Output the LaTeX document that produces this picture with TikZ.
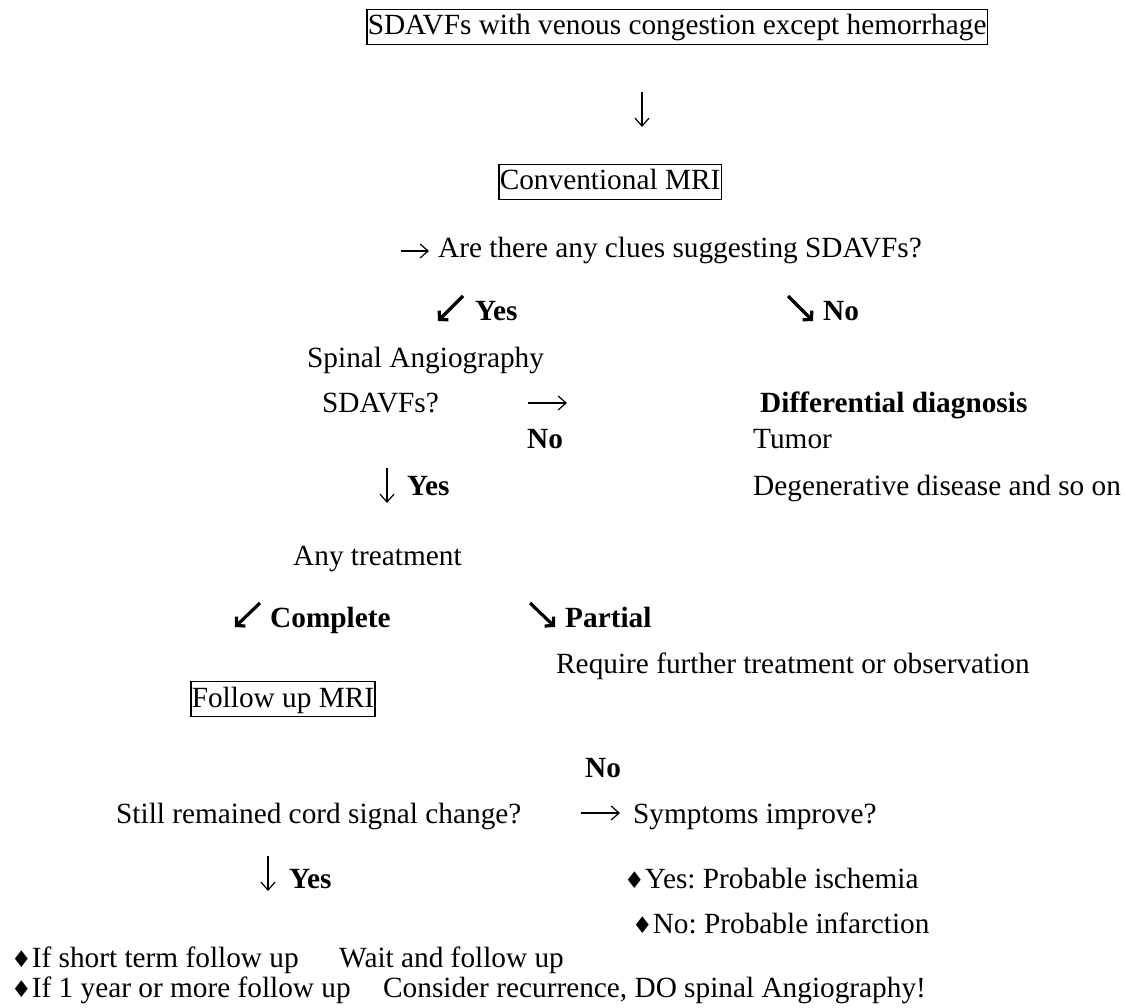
\documentclass[tikz,border=0pt]{standalone}
\usepackage{fontspec}
\setmainfont{Liberation Serif}
\newfontfamily\dmdfont{DejaVu Sans}
\usetikzlibrary{arrows.meta}
\newcommand{\dmd}{{\dmdfont\fontsize{23}{23}\selectfont ♦}}
\frenchspacing

\begin{document}
\fontsize{29.3}{35}\selectfont
\begin{tikzpicture}[x=1pt,y=-1pt,
    every node/.style={anchor=base west, inner sep=0pt},
    box/.style={draw, line width=1.6pt, inner xsep=1pt, text height=25.5pt, text depth=9.5pt},
    yn/.style={font=\bfseries},
    thinarr/.style={line width=1.2pt, -{Straight Barb[length=8pt,width=14pt]}},
    boldarr/.style={line width=3.2pt, -{Straight Barb[length=6pt,width=13pt]}}]
\useasboundingbox (0,0) rectangle (1125,1008);

% boxes and questions
\node[box] (start) at (366,35) {SDAVFs with venous congestion except hemorrhage};
\node[box] (mri) at (498,190) {Conventional MRI\hspace{12pt}};
\node (clues) at (438,258) {Are there any clues suggesting SDAVFs?};
\node[yn] (yes1) at (475,321) {Yes};
\node[yn] (no1) at (823,321) {No};
\node (angio) at (307,367) {Spinal Angiography};
\node (sdavf) at (322,413) {SDAVFs?};
\node[yn] (diff) at (760,412) {Differential diagnosis};
\node[yn] (no2) at (527,448) {No};
\node (tumor) at (753,448) {Tumor};
\node[yn] (yes2) at (407,495) {Yes};
\node (degen) at (753,495) {Degenerative disease and so on};
\node (treat) at (293,565) {Any treatment};
\node[yn] (compl) at (270,627) {Complete};
\node[yn] (part) at (565,627) {Partial};
\node (further) at (556,673) {Require further treatment or observation};
\node[box] (follow) at (190,707) {Follow up MRI};
\node[yn] (no3) at (585,777) {No};
\node (cord) at (116,823) {Still remained cord signal change?};
\node (sympt) at (633,823) {Symptoms improve?};
\node[yn] (yes3) at (289,888) {Yes};
\node (isch) at (624,888) {\dmd Yes: Probable ischemia};
\node (infarc) at (632,933) {\dmd No: Probable infarction};
\node (short) at (11,967) {\dmd If short term follow up};
\node (wait) at (339,967) {Wait and follow up};
\node (long) at (11,997) {\dmd If 1 year or more follow up};
\node (recur) at (383,997) {Consider recurrence, DO spinal Angiography!};

% arrows
\coordinate (a1) at (642,92);   \coordinate (b1) at (642,127);
\coordinate (a2) at (401,251);  \coordinate (b2) at (429,251);
\coordinate (a3) at (463,296);  \coordinate (b3) at (438,321);
\coordinate (a4) at (788,296);  \coordinate (b4) at (813,321);
\coordinate (a5) at (528,403);  \coordinate (b5) at (567,403);
\coordinate (a6) at (387,468);  \coordinate (b6) at (387,503);
\coordinate (a7) at (260,603);  \coordinate (b7) at (235,627);
\coordinate (a8) at (530,603);  \coordinate (b8) at (555,627);
\coordinate (a9) at (581,813);  \coordinate (b9) at (620,813);
\coordinate (a10) at (268,856); \coordinate (b10) at (268,891);
\draw[thinarr] (a1) -- (b1);
\draw[thinarr] (a2) -- (b2);
\draw[boldarr] (a3) -- (b3);
\draw[boldarr] (a4) -- (b4);
\draw[thinarr] (a5) -- (b5);
\draw[thinarr] (a6) -- (b6);
\draw[boldarr] (a7) -- (b7);
\draw[boldarr] (a8) -- (b8);
\draw[thinarr] (a9) -- (b9);
\draw[thinarr] (a10) -- (b10);
\end{tikzpicture}
\end{document}
